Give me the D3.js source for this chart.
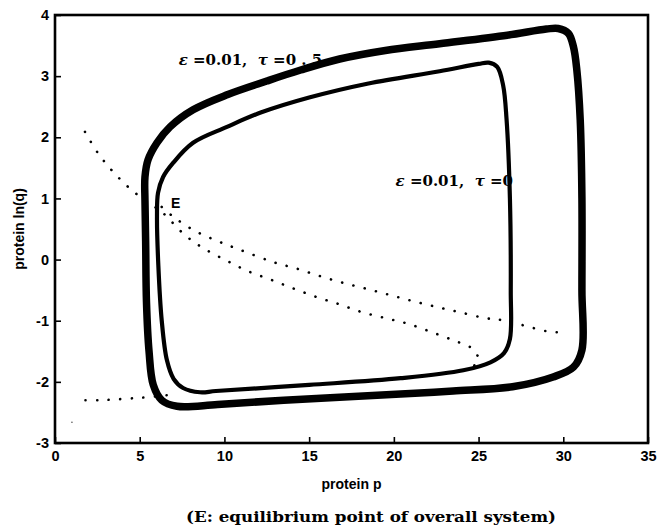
<!DOCTYPE html>
<html>
<head>
<meta charset="utf-8">
<script src="https://cdn.jsdelivr.net/npm/d3@7"></script>
<style>
body { margin: 0; background: #fff; }
text { white-space: pre; }
</style>
</head>
<body>
<div id="viz"></div>
<script>
/* global d3 */

// general variables
var w = 657
var h = 531

// axis ticks
var pTicks = [0, 5, 10, 15, 20, 25, 30, 35]
var qTicks = [-3, -2, -1, 0, 1, 2, 3, 4]

// limit cycle for eps = 0.01, tau = 0.5 (heavy line), [p, ln(q)]
var cycleTau05 = [
  [5.31, 0.97], [5.31, 1.35], [5.49, 1.63], [6.02, 1.91], [6.79, 2.17], [8.15, 2.45],
  [10.2, 2.70], [12.5, 2.92], [14.5, 3.10], [16.8, 3.28], [19.5, 3.42], [22.7, 3.53],
  [26.7, 3.67], [29.0, 3.77], [29.7, 3.78], [30.3, 3.70], [30.6, 3.48], [30.8, 3.10],
  [31.0, 2.28], [31.1, 1.0], [31.1, -0.5], [31.1, -1.48], [30.6, -1.76], [29.4, -1.92],
  [27.0, -2.08], [23.5, -2.15], [20.4, -2.20], [13.5, -2.30], [9.6, -2.37], [7.2, -2.40],
  [6.3, -2.30], [5.8, -2.05], [5.55, -1.5], [5.4, -0.7], [5.35, 0.3]
]

// limit cycle for eps = 0.01, tau = 0
var cycleTau0 = [
  [6.02, 0.7], [6.08, 1.09], [6.38, 1.35], [6.97, 1.58], [8.15, 1.91], [10.15, 2.17],
  [12.1, 2.40], [15, 2.65], [18.5, 2.88], [22.7, 3.08], [25.0, 3.20], [25.6, 3.22],
  [26.1, 3.15], [26.45, 2.85], [26.65, 2.3], [26.85, 1.0], [26.9, -0.5], [26.85, -1.3],
  [26.5, -1.53], [25.7, -1.68], [24.1, -1.81], [20.4, -1.94], [15, -2.05], [9.5, -2.15],
  [8.56, -2.17], [7.56, -2.10], [7.0, -1.95], [6.6, -1.64], [6.3, -1.0], [6.1, -0.1]
]

// dotted nullclines
var nullSteep = [
  [1.77, 2.09], [2.54, 1.74], [3.48, 1.42], [4.60, 1.12], [5.79, 0.88], [6.38, 0.76],
  [7.67, 0.40], [8.85, 0.17], [10.15, -0.02], [11.39, -0.19], [12.75, -0.33], [14.05, -0.47],
  [15.41, -0.61], [16.77, -0.73], [18.12, -0.86], [19.54, -0.96], [20.84, -1.05], [22.26, -1.19],
  [23.61, -1.33], [24.6, -1.45], [24.97, -1.6], [24.9, -1.70], [24.3, -1.78]
]
var nullFlat = [
  [6.3, 0.86], [7.08, 0.68], [8.26, 0.47], [9.62, 0.30], [10.92, 0.16], [12.87, -0.04],
  [14.29, -0.15], [15.64, -0.27], [17.0, -0.38], [18.42, -0.48], [19.78, -0.58], [21.13, -0.68],
  [22.61, -0.78], [24.03, -0.87], [25.44, -0.96], [26.15, -0.98], [27.57, -1.07], [28.98, -1.17],
  [29.69, -1.19]
]
var nullLow = [[1.8, -2.3], [2.6, -2.3], [3.4, -2.29], [4.5, -2.27], [5.5, -2.25], [7.2, -2.2]]
var strayDot = [[1.0, -2.66]]

// scales
var x = d3.scaleLinear().domain([0, 35]).range([55, 648])
var y = d3.scaleLinear().domain([-3, 4]).range([443, 15])

var svg = d3.select("#viz")
  .append("svg")
  .attr("width", w)
  .attr("height", h)
  .style("background", "#fff")

var closedLine = d3.line()
  .x(d => x(d[0]))
  .y(d => y(d[1]))
  .curve(d3.curveCatmullRomClosed)

var openLine = d3.line()
  .x(d => x(d[0]))
  .y(d => y(d[1]))
  .curve(d3.curveCatmullRom)

// axes, ticks pointing inward; plain hyphen for negatives like the original
var plain = d => String(d)
svg.append("g")
  .attr("transform", "translate(0," + y(-3) + ")")
  .call(d3.axisBottom(x).tickValues(pTicks).tickFormat(plain).tickSize(-6).tickPadding(8))
svg.append("g")
  .attr("transform", "translate(" + x(0) + ",0)")
  .call(d3.axisLeft(y).tickValues(qTicks).tickFormat(plain).tickSize(-6).tickPadding(6))

svg.selectAll(".domain").remove()
svg.selectAll(".tick line").attr("stroke", "#000").attr("stroke-width", 1.6)
svg.selectAll(".tick text")
  .attr("fill", "#000")
  .style("font-family", "'Liberation Sans', Arial, sans-serif")
  .style("font-weight", "bold")
  .style("font-size", "14.5px")

// frame
svg.append("rect")
  .attr("x", x(0))
  .attr("y", y(4))
  .attr("width", x(35) - x(0))
  .attr("height", y(-3) - y(4))
  .attr("fill", "none")
  .attr("stroke", "#000")
  .attr("stroke-width", 2.6)

// nullclines
var o = 2.6 // dot size
svg.selectAll(".nullcline").data([nullSteep, nullFlat, nullLow])
  .enter()
  .append("path")
  .attr("class", "nullcline")
  .attr("d", openLine)
  .attr("fill", "none")
  .attr("stroke", "#000")
  .attr("stroke-width", o)
  .attr("stroke-linecap", "round")
  .attr("stroke-dasharray", "0.1 11.5")

svg.selectAll(".stray").data(strayDot)
  .enter()
  .append("circle")
  .attr("cx", d => x(d[0]))
  .attr("cy", d => y(d[1]))
  .attr("r", 0.8)
  .attr("fill", "#555")

// labels
var serif = "'DejaVu Serif', 'Century Schoolbook', serif"
function cycleLabel(px, qy, tauText) {
  var t = svg.append("text")
    .attr("x", x(px))
    .attr("y", y(qy))
    .style("font-family", serif)
    .style("font-weight", "bold")
    .style("font-size", "15px")
  t.append("tspan").style("font-style", "italic").text("\u03b5")
  t.append("tspan").text(" =0.01,  ")
  t.append("tspan").style("font-style", "italic").text("\u03c4")
  t.append("tspan").text(" =" + tauText)
}
cycleLabel(7.3, 3.18, "0 . 5")
cycleLabel(20.1, 1.2, "0")

svg.append("text")
  .attr("x", x(6.85))
  .attr("y", y(0.84))
  .style("font-family", "'Liberation Sans', Arial, sans-serif")
  .style("font-weight", "bold")
  .style("font-size", "14px")
  .text("E")

// limit cycles
svg.append("path")
  .attr("d", closedLine(cycleTau0))
  .attr("fill", "none")
  .attr("stroke", "#000")
  .attr("stroke-width", 4.2)

svg.append("path")
  .attr("d", closedLine(cycleTau05))
  .attr("fill", "none")
  .attr("stroke", "#000")
  .attr("stroke-width", 7.5)

// axis titles and caption
svg.append("text")
  .attr("x", (x(0) + x(35)) / 2)
  .attr("y", 489)
  .attr("text-anchor", "middle")
  .style("font-family", "'Liberation Sans', Arial, sans-serif")
  .style("font-weight", "bold")
  .style("font-size", "14px")
  .text("protein p")

svg.append("text")
  .attr("transform", "translate(24," + (y(4) + y(-3)) / 2 + ") rotate(-90)")
  .attr("text-anchor", "middle")
  .style("font-family", "'Liberation Sans', Arial, sans-serif")
  .style("font-weight", "bold")
  .style("font-size", "14px")
  .text("protein ln(q)")

svg.append("text")
  .attr("x", 186)
  .attr("y", 522)
  .attr("textLength", 370)
  .attr("lengthAdjust", "spacingAndGlyphs")
  .style("font-family", serif)
  .style("font-weight", "bold")
  .style("font-size", "15px")
  .text("(E: equilibrium point of overall system)")
</script>
</body>
</html>
